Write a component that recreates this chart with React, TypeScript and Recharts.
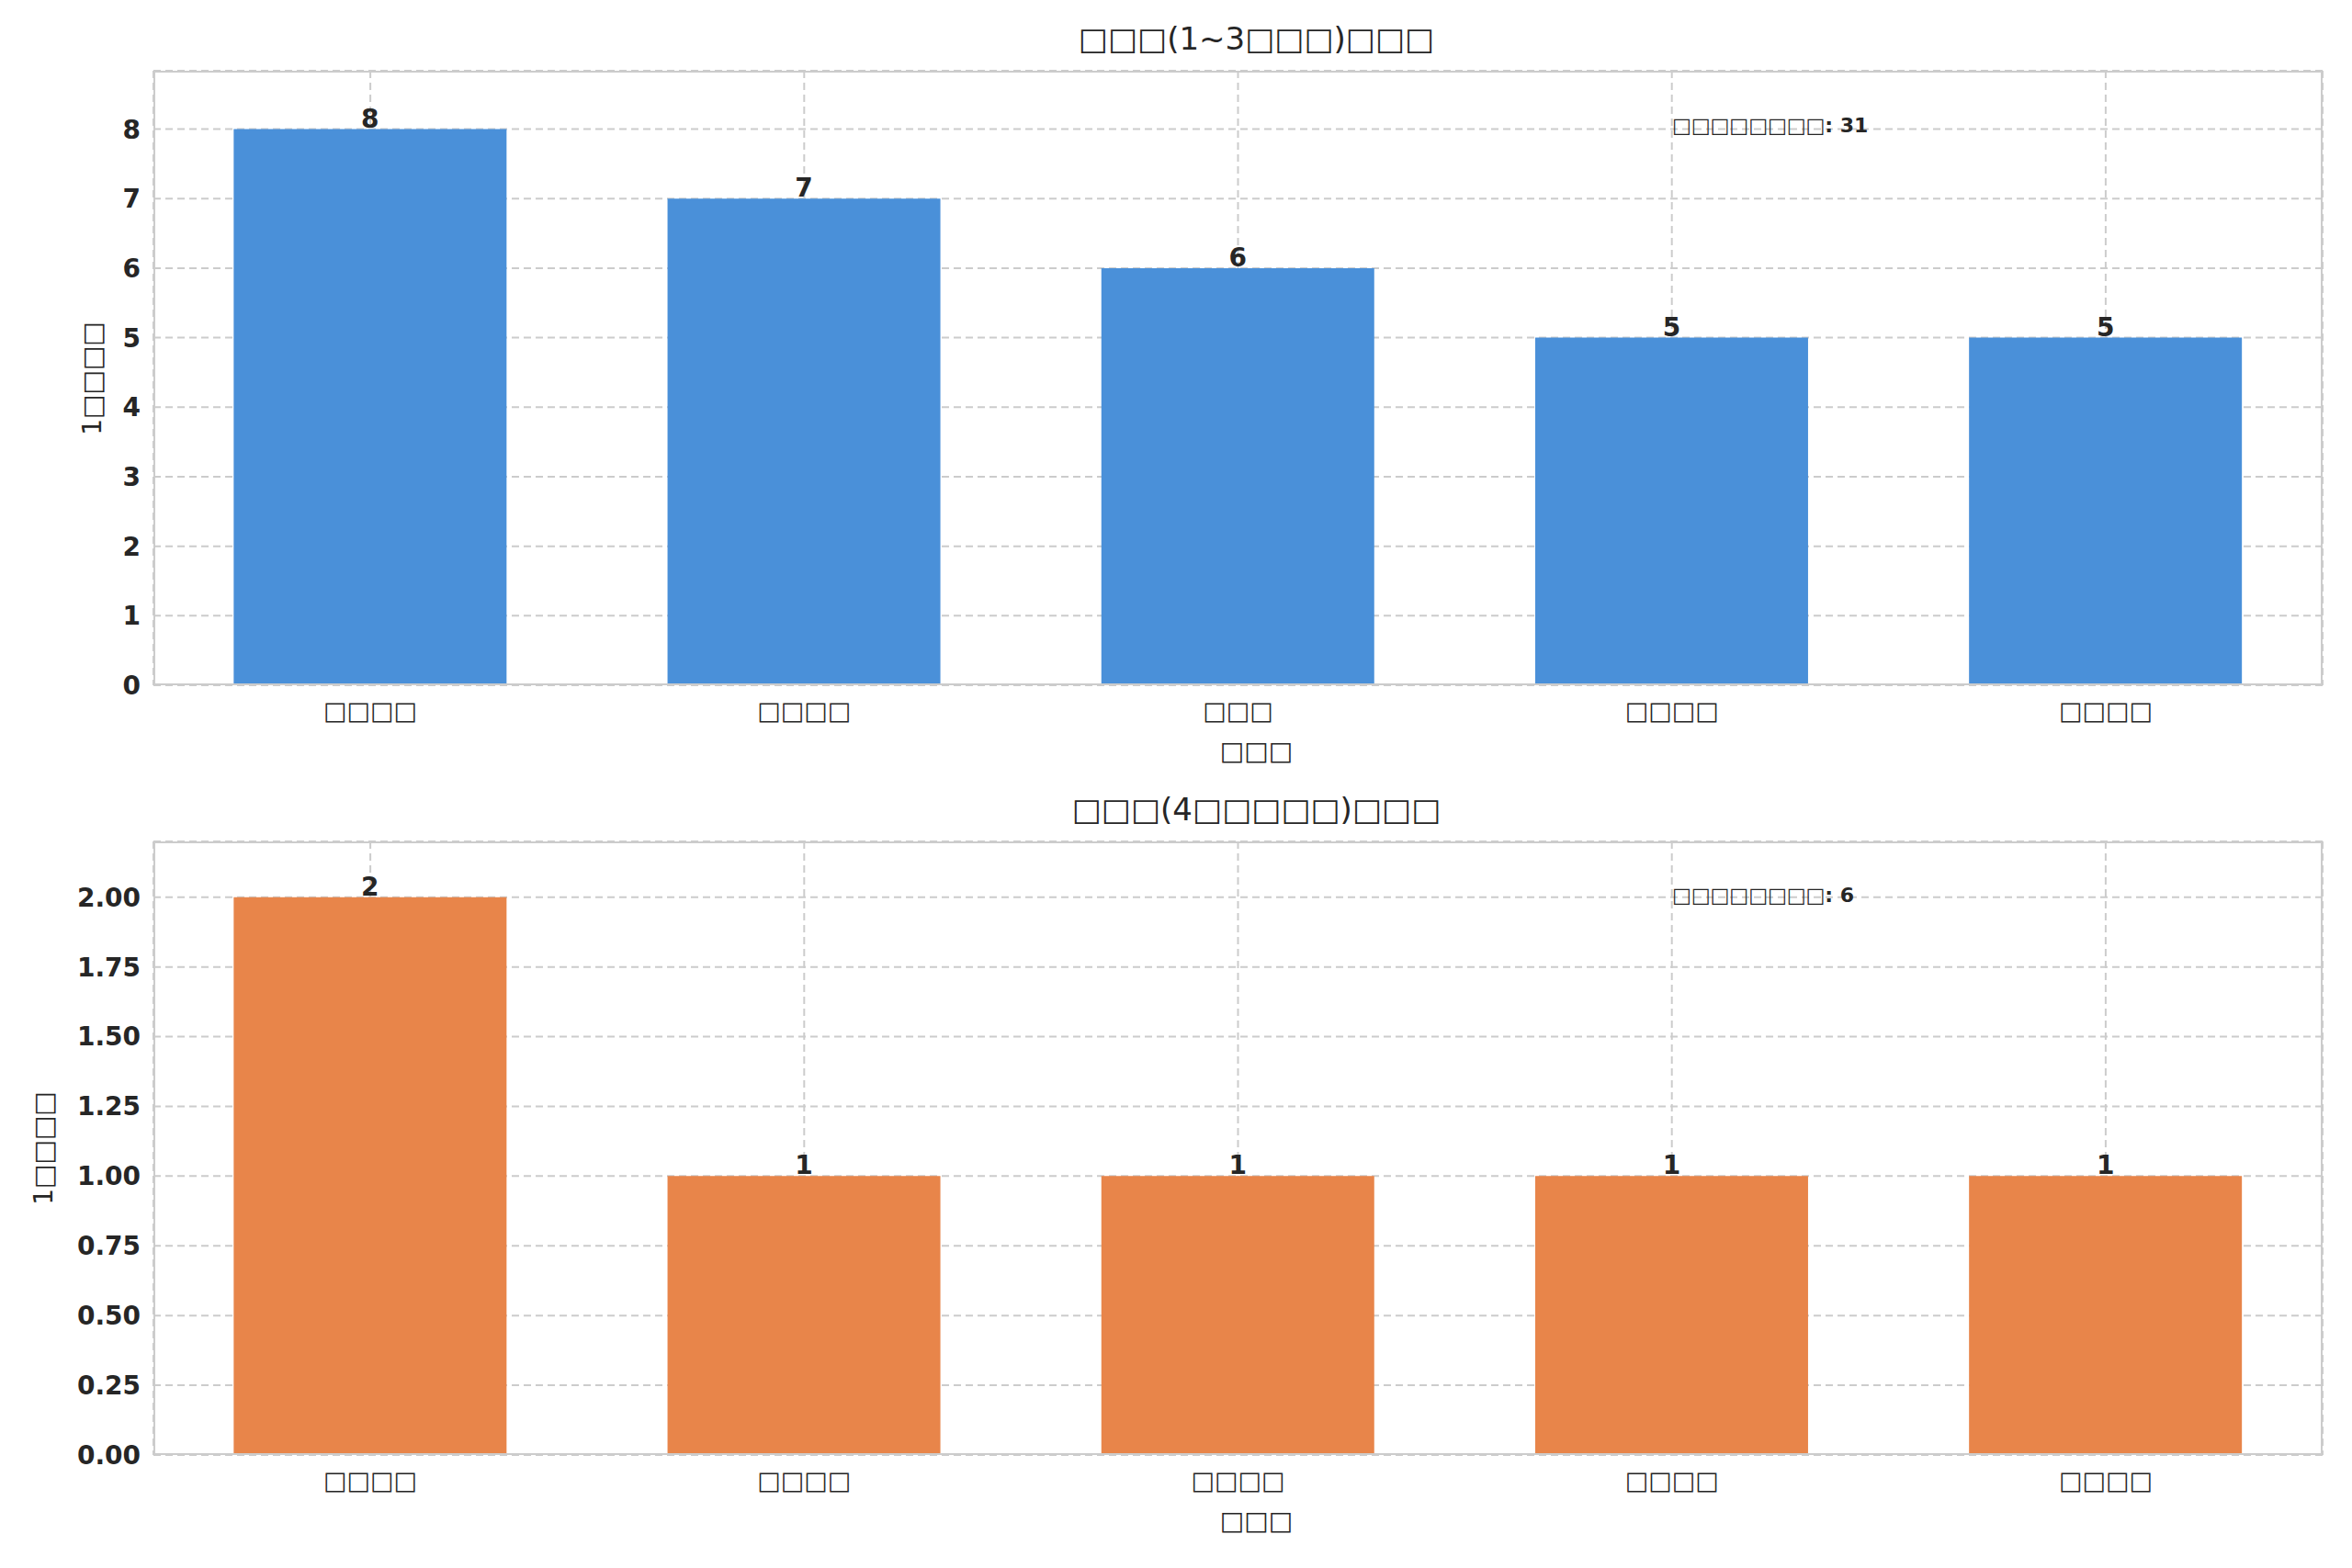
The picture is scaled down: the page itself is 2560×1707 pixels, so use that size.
import React from "react";
import { BarChart, Bar, XAxis, YAxis, CartesianGrid, LabelList } from "recharts";

const B = "□";
const catsTop = [B.repeat(4), B.repeat(4), B.repeat(3), B.repeat(4), B.repeat(4)];
const valsTop = [8, 7, 6, 5, 5];
const ticksTop = [0, 1, 2, 3, 4, 5, 6, 7, 8];
const catsBottom = [B.repeat(4), B.repeat(4), B.repeat(4), B.repeat(4), B.repeat(4)];
const valsBottom = [2, 1, 1, 1, 1];
const ticksBottom = [0, 0.25, 0.5, 0.75, 1, 1.25, 1.5, 1.75, 2];
const titleTop = B.repeat(3) + "(1~3" + B.repeat(3) + ")" + B.repeat(3);
const titleBottom = B.repeat(3) + "(4" + B.repeat(5) + ")" + B.repeat(3);
const noteTop = B.repeat(8) + ": 31";
const noteBottom = B.repeat(8) + ": 6";
const yLabel = "1" + B.repeat(4);
const xLabel = B.repeat(3);

const TXT = "#262626";
const FONT = "'DejaVu Sans', sans-serif";

function Panel(props: any) {
  const { top, height, plotTop, plotBottom, cats, vals, ticks, domain, color, title, note, noteY, yLabelX, fmt } = props;
  const data = cats.map((c: string, i: number) => ({ name: c, value: vals[i] }));
  const mLeft = 87;
  const yW = 80;
  const xH = 60;
  return (
    <div style={{ position: "absolute", left: 0, top, width: 2560, height }}>
      <BarChart
        width={2560}
        height={height}
        data={data}
        margin={{ top: plotTop, right: 32, left: mLeft, bottom: height - plotBottom - xH }}
        barCategoryGap="18.5%"
      >
        <CartesianGrid stroke="#cccccc" strokeDasharray="8 5" strokeWidth={2} />
        <XAxis
          dataKey="name"
          height={xH}
          tickLine={false}
          axisLine={false}
          tick={{ fontSize: 27, fill: TXT, fontFamily: FONT }}
          tickMargin={12}
        />
        <YAxis
          width={yW}
          domain={domain}
          ticks={ticks}
          tickFormatter={fmt}
          tickLine={false}
          axisLine={false}
          allowDataOverflow
          tick={{ fontSize: 28, fill: TXT, fontWeight: "bold", fontFamily: FONT }}
          tickMargin={8}
        />
        <Bar dataKey="value" fill={color} isAnimationActive={false}>
          <LabelList dataKey="value" position="top" offset={2} style={{ fontSize: 28, fontWeight: "bold", fill: TXT, fontFamily: FONT }} />
        </Bar>
      </BarChart>
      <div style={{ position: "absolute", left: 167, top: plotTop, width: 2528 - 167, height: plotBottom - plotTop, border: "2px solid #cccccc", boxSizing: "border-box", pointerEvents: "none" }} />
      <div style={{ position: "absolute", left: 0, width: 2560, textAlign: "center", paddingLeft: 175, boxSizing: "border-box", top: plotTop - 55, fontSize: 34, color: TXT, fontFamily: FONT }}>{title}</div>
      <div style={{ position: "absolute", left: 1820, top: noteY - 13, fontSize: 22, fontWeight: "bold", color: TXT, fontFamily: FONT, whiteSpace: "nowrap" }}>{note}</div>
      <div style={{ position: "absolute", left: 0, width: 2560, textAlign: "center", paddingLeft: 175, boxSizing: "border-box", top: plotBottom + 55, fontSize: 28, color: TXT, fontFamily: FONT }}>{xLabel}</div>
      <div style={{ position: "absolute", left: yLabelX, top: (plotTop + plotBottom) / 2, transform: "translate(-50%, -50%) rotate(-90deg)", fontSize: 28, color: TXT, fontFamily: FONT, whiteSpace: "nowrap" }}>{yLabel}</div>
    </div>
  );
}

export default function App() {
  return (
    <div style={{ position: "absolute", left: 0, top: 0, width: 2560, height: 1707, background: "#fff" }}>
      <Panel top={0} height={853} plotTop={77} plotBottom={746} cats={catsTop} vals={valsTop} ticks={ticksTop}
        domain={[0, 8.84]} color="#4a90d9" title={titleTop} note={noteTop} noteY={137} yLabelX={100} fmt={(v: number) => String(v)} />
      <Panel top={853} height={854} plotTop={63} plotBottom={731} cats={catsBottom} vals={valsBottom} ticks={ticksBottom}
        domain={[0, 2.2]} color="#e8854a" title={titleBottom} note={noteBottom} noteY={975 - 853} yLabelX={47} fmt={(v: number) => v.toFixed(2)} />
    </div>
  );
}
